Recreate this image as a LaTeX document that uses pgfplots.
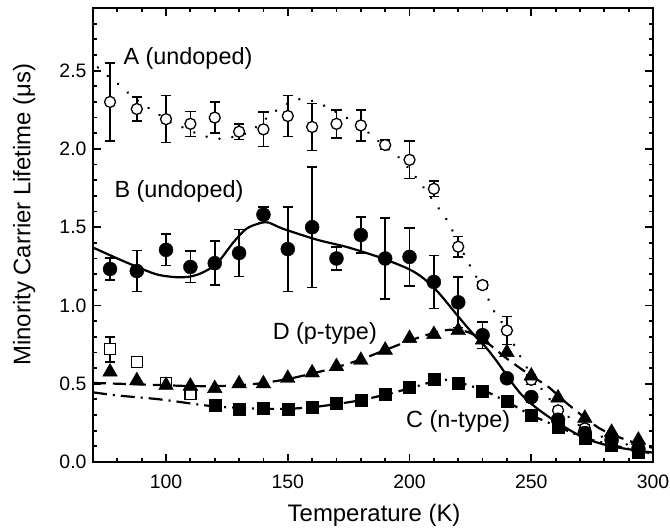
\documentclass[border=0pt]{standalone}
\usepackage{fontspec}
\setmainfont{Liberation Sans}
\usepackage{pgfplots}
\usepackage{pgfplotstable}
\pgfplotsset{compat=1.18}

\pgfplotstableread{
T L E
77 2.30 0.25
88 2.255 0.075
100 2.19 0.15
110 2.16 0.08
120 2.20 0.10
130 2.11 0.05
140 2.125 0.11
150 2.21 0.13
160 2.14 0.15
170 2.16 0.09
180 2.15 0.10
190 2.025 0.03
200 1.93 0.12
210 1.745 0.05
220 1.375 0.065
230 1.13 0.02
240 0.84 0.09
250 0.525 0.03
261 0.33 0.02
272 0.215 0.02
283 0.15 0.02
294 0.10 0.02
}\dataA

\pgfplotstableread{
T L E
77 1.233 0.07
88 1.22 0.13
100 1.355 0.10
110 1.246 0.10
120 1.27 0.14
130 1.335 0.15
140 1.58 0.05
150 1.36 0.27
160 1.50 0.385
170 1.30 0.075
180 1.45 0.115
190 1.30 0.26
200 1.31 0.185
210 1.15 0.17
220 1.02 0.16
230 0.81 0.085
240 0.535 0.03
250 0.415 0.03
261 0.27 0.02
272 0.185 0.02
283 0.14 0.02
294 0.083 0.02
}\dataB

\pgfplotstableread{
T L
120 0.36
130 0.34
140 0.345
150 0.34
160 0.35
170 0.375
180 0.395
190 0.43
200 0.475
210 0.53
220 0.505
230 0.455
240 0.39
250 0.30
261 0.225
272 0.155
283 0.11
294 0.065
}\dataC

\pgfplotstableread{
T L E
77 0.72 0.08
88 0.64 0.03
100 0.505 0.02
110 0.435 0.02
}\dataCopen

\pgfplotstableread{
T L
77 0.575
88 0.52
100 0.49
110 0.485
120 0.47
130 0.50
140 0.50
150 0.535
160 0.57
170 0.61
180 0.65
190 0.715
200 0.79
210 0.815
220 0.84
230 0.78
240 0.70
250 0.55
261 0.41
272 0.28
283 0.19
294 0.14
}\dataD

\begin{document}
\begin{tikzpicture}
\begin{axis}[
  scale only axis, width=560bp, height=454bp,
  xmin=70, xmax=300, ymin=0, ymax=2.9,
  xtick={100,150,200,250,300},
  minor xtick={70,80,90,110,120,130,140,160,170,180,190,210,220,230,240,260,270,280,290},
  ytick={0,0.5,1,1.5,2,2.5},
  minor ytick={0.1,0.2,0.3,0.4,0.6,0.7,0.8,0.9,1.1,1.2,1.3,1.4,1.6,1.7,1.8,1.9,2.1,2.2,2.3,2.4,2.6,2.7,2.8},
  tick align=inside, major tick length=8bp, minor tick length=4.5bp,
  every tick/.style={black, line width=1.8bp},
  axis line style={line width=2.8bp},
  ticklabel style={font=\fontsize{19.5}{22}\selectfont},
  /pgf/number format/assume math mode=true,
  yticklabel style={xshift=-3bp, /pgf/number format/.cd, fixed, fixed zerofill, precision=1},
  xticklabel style={yshift=-9bp, /pgf/number format/.cd, fixed, precision=0},
  xlabel={Temperature (K)}, ylabel={Minority Carrier Lifetime (μs)},
  label style={font=\fontsize{24}{28}\selectfont},
  xlabel style={at={(axis description cs:0.502,-0.117)}, anchor=center},
  ylabel style={at={(axis description cs:-0.123,0.545)}, anchor=center},
  clip=true,
  errstyle/.style={error bars/.cd, y dir=both, y explicit,
    error bar style={line width=1.6bp, black},
    error mark options={rotate=90, mark size=5.2bp, line width=1.6bp, black}},
]
% fits
\addplot[black, line width=2.8bp, line cap=round, dash pattern={on 0.01bp off 13bp}, smooth, tension=0.5] coordinates {
(72,2.52)(74,2.49)(80,2.42)(85,2.35)(90,2.29)(96,2.23)(102,2.17)(108,2.13)(114,2.09)(121,2.065)(127,2.075)(133,2.10)(138,2.15)(143,2.22)(150,2.29)(156,2.32)(163,2.29)(168,2.25)(174,2.20)(180,2.14)(185,2.08)(190,2.01)(195,1.955)(200,1.87)(205,1.77)(212,1.62)(216,1.53)(220,1.40)(225,1.25)(231.5,1.07)(234,0.98)(238,0.89)(247.5,0.62)(256,0.43)(263,0.32)(272,0.21)(283,0.14)(295,0.09)};
\addplot[black, line width=2.2bp, smooth, tension=0.5] coordinates {
(70,1.37)(80,1.30)(90.6,1.23)(97,1.195)(104.5,1.18)(110,1.185)(115,1.21)(121,1.27)(127.5,1.40)(133,1.49)(138.5,1.525)(142,1.53)(148,1.49)(162,1.42)(175,1.37)(189,1.30)(200,1.23)(206,1.17)(212,1.08)(220,0.93)(226,0.82)(231.5,0.73)(236,0.64)(246,0.43)(257,0.29)(271,0.16)(283,0.10)(300,0.06)};
\addplot[black, line width=2.2bp, dash pattern={on 14bp off 6bp on 2bp off 6bp}, smooth, tension=0.5] coordinates {
(70,0.445)(80,0.425)(97.5,0.40)(117,0.36)(130,0.345)(140,0.34)(150,0.34)(160,0.35)(170,0.37)(180,0.395)(190,0.43)(200,0.47)(210,0.515)(215,0.525)(220,0.51)(230,0.46)(240,0.385)(250,0.30)(261,0.225)(272,0.155)(283,0.11)(294,0.07)(300,0.055)};
\addplot[black, line width=2.2bp, dash pattern={on 13bp off 7bp}, smooth, tension=0.5] coordinates {
(70,0.505)(80,0.50)(90,0.495)(100,0.49)(110,0.485)(120,0.485)(130,0.49)(140,0.505)(150,0.53)(160,0.565)(170,0.605)(180,0.655)(190,0.715)(200,0.775)(210,0.825)(217,0.845)(224,0.83)(232,0.76)(240,0.66)(250,0.55)(257,0.48)(265,0.37)(277,0.225)(285,0.165)(293,0.12)(300,0.09)};
% data
\addplot[only marks, mark=*, mark size=5.5bp, mark options={fill=white, draw=black, line width=1.3bp}, errstyle] table[x=T,y=L,y error=E]{\dataA};
\addplot[only marks, mark=*, mark size=7bp, mark options={fill=black, draw=black}, errstyle] table[x=T,y=L,y error=E]{\dataB};
\addplot[only marks, mark=square*, mark size=6bp, mark options={fill=black, draw=black}] table[x=T,y=L]{\dataC};
\addplot[only marks, mark=square*, mark size=5.5bp, mark options={fill=white, draw=black, line width=1.3bp}, errstyle] table[x=T,y=L,y error=E]{\dataCopen};
\addplot[only marks, mark=triangle*, mark size=8.5bp, mark options={fill=black, draw=black}] table[x=T,y=L]{\dataD};
% labels
\node[anchor=base, font=\fontsize{23.5}{26}\selectfont] at (axis cs:109,2.537) {A (undoped)};
\node[anchor=base, font=\fontsize{23.5}{26}\selectfont] at (axis cs:105.3,1.687) {B (undoped)};
\node[anchor=base, font=\fontsize{23.5}{26}\selectfont] at (axis cs:165.2,0.78) {D (p-type)};
\node[anchor=base, font=\fontsize{23.5}{26}\selectfont] at (axis cs:220,0.22) {C (n-type)};
\end{axis}
\pgfresetboundingbox
\path (-93bp,-67bp) rectangle (577bp,462bp);
\end{tikzpicture}
\end{document}
